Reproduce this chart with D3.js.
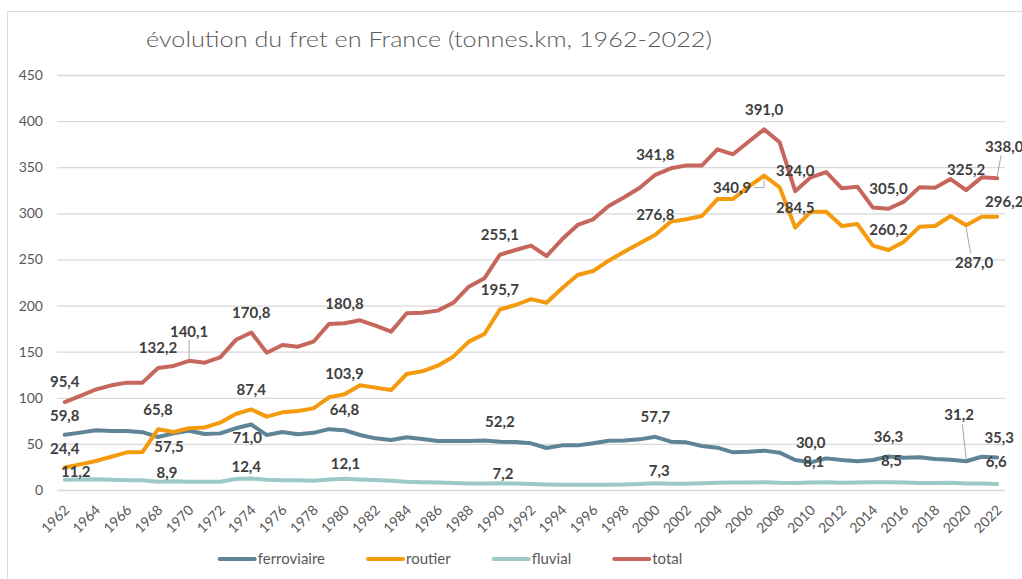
<!DOCTYPE html>
<html>
<head>
<meta charset="utf-8">
<script src="https://cdn.jsdelivr.net/npm/d3@7"></script>
<style>
  body { margin: 0; background: #fff; }
  svg { display: block; font-family: 'Century Gothic', Lato, sans-serif; }
</style>
</head>
<body>
<div id="chart"></div>
<script>
// --- données (milliards de tonnes.km) ---
const years = d3.range(1962, 2023);

const ferroviaire = [59.8, 62.2, 64.7, 64.0, 64.0, 62.7, 57.5, 61.4, 64.3, 60.7,
  61.4, 66.9, 71.0, 59.6, 62.9, 60.5, 62.0, 66.0, 64.8, 59.6,
  56.0, 54.2, 57.1, 55.3, 53.1, 53.1, 53.1, 53.8, 52.2, 52.0,
  50.6, 45.5, 48.4, 48.4, 50.6, 53.5, 53.8, 54.9, 57.7, 52.4,
  51.7, 47.7, 45.9, 40.8, 41.5, 42.7, 40.5, 32.5, 30.0, 34.3,
  32.5, 31.3, 32.5, 36.3, 35.0, 35.4, 33.5, 32.9, 31.2, 36.1, 35.3];

const routier = [24.4, 27.8, 31.4, 36.1, 40.8, 41.2, 65.8, 62.9, 66.9, 67.9,
  73.0, 82.4, 87.4, 79.5, 84.2, 85.7, 88.5, 100.5, 103.9, 113.5,
  111.0, 108.4, 125.8, 128.7, 134.8, 144.6, 160.9, 169.2, 195.7, 200.6,
  207.0, 203.1, 218.7, 233.1, 237.5, 248.7, 258.4, 267.5, 276.8, 291.0,
  293.5, 297.1, 315.5, 315.5, 328.9, 340.9, 328.2, 284.5, 301.8, 301.8,
  286.3, 288.4, 265.0, 260.2, 269.3, 285.5, 286.3, 297.1, 287.0, 296.4, 296.2];

const fluvial = [11.2, 11.5, 11.7, 11.0, 10.5, 10.5, 8.9, 9.5, 9.0, 9.0,
  9.0, 12.0, 12.4, 11.0, 10.5, 10.5, 10.0, 11.5, 12.1, 11.5,
  10.8, 10.0, 9.0, 8.5, 8.0, 7.5, 7.0, 7.0, 7.2, 7.0,
  6.5, 6.0, 5.6, 5.7, 5.8, 5.8, 6.0, 6.5, 7.3, 6.7,
  6.9, 7.2, 7.8, 8.0, 8.2, 8.5, 7.8, 7.5, 8.1, 8.5,
  7.8, 8.0, 8.3, 8.5, 8.0, 7.5, 7.5, 7.8, 7.0, 7.0, 6.6];

const total = [95.4, 102.0, 109.0, 113.5, 116.4, 116.4, 132.2, 134.5, 140.1, 138.0,
  143.9, 162.6, 170.8, 148.9, 157.2, 155.4, 160.8, 180.0, 180.8, 184.0,
  178.2, 171.7, 191.6, 192.3, 194.5, 203.0, 220.5, 229.5, 255.1, 260.2,
  265.0, 253.7, 271.8, 287.4, 293.5, 308.0, 317.4, 327.8, 341.8, 348.8,
  352.0, 352.0, 369.4, 364.0, 377.7, 391.0, 377.0, 324.0, 339.0, 344.8,
  327.1, 328.9, 306.2, 305.0, 312.7, 328.2, 327.8, 337.2, 325.2, 339.0, 338.0];

const seriesNames = ["ferroviaire", "routier", "fluvial", "total"];
const yTicks = [0, 50, 100, 150, 200, 250, 300, 350, 400, 450];

// années avec étiquette de valeur
const labelYears = {
  ferroviaire: [1962, 1968, 1974, 1980, 1990, 2000, 2010, 2015, 2020, 2022],
  routier: [1962, 1968, 1974, 1980, 1990, 2000, 2007, 2009, 2015, 2020, 2022],
  fluvial: [1962, 1968, 1974, 1980, 1990, 2000, 2010, 2015, 2022],
  total: [1962, 1968, 1970, 1974, 1980, 1990, 2000, 2007, 2009, 2015, 2020, 2022]
};

// --- mise en page ---
const width = 1022, height = 579;
const colors = { ferroviaire: "#5f8497", routier: "#f59a0c", fluvial: "#9ccbc7", total: "#c6675e" };
const values = { ferroviaire, routier, fluvial, total };

// décalages des étiquettes (centre du texte par rapport au point)
const labelPos = {
  "total-1970": { dx: 0, dy: -29, leader: "v" },
  "total-2022": { dx: 7, dy: -32, leader: "line" },
  "routier-1962": { dx: 0, dy: -19 },
  "routier-2007": { dx: -32, dy: 12, leader: "elbow" },
  "routier-2020": { dx: 8, dy: 37, leader: "line" },
  "routier-2022": { dx: 7, dy: -15 },
  "ferroviaire-1962": { dx: 0, dy: -19 },
  "ferroviaire-1968": { dx: 11, dy: 10 },
  "ferroviaire-1974": { dx: -4, dy: 13 },
  "ferroviaire-2020": { dx: -7, dy: -46, leader: "line" },
  "ferroviaire-2022": { dx: 2, dy: -20 },
  "fluvial-1962": { dx: 11, dy: -8 },
  "fluvial-1968": { dx: 9, dy: -9 },
  "fluvial-1974": { dx: -5, dy: -12 },
  "fluvial-1980": { dx: 1, dy: -15 },
  "fluvial-1990": { dx: 3, dy: -10 },
  "fluvial-2000": { dx: 4, dy: -13 },
  "fluvial-2010": { dx: 3, dy: -21 },
  "fluvial-2015": { dx: 3, dy: -21 },
  "fluvial-2022": { dx: -1, dy: -22 }
};

const svg = d3.select("#chart").append("svg")
  .attr("width", width).attr("height", height);

// cadre du graphique
svg.append("rect")
  .attr("x", 7.5).attr("y", 11.5)
  .attr("width", 1040).attr("height", 600)
  .attr("fill", "#fff").attr("stroke", "#d9d9d9");

const x = d3.scalePoint().domain(years).range([57, 1005]).padding(0.5);
const y = d3.scaleLinear().domain([0, 450]).range([490, 75]);

// titre
svg.append("text")
  .attr("x", 146).attr("y", 47)
  .attr("fill", "#595959")
  .attr("font-size", "21px")
  .attr("font-weight", 300)
  .attr("textLength", 566)
  .attr("lengthAdjust", "spacingAndGlyphs")
  .text("évolution du fret en France (tonnes.km, 1962-2022)");

// grille horizontale
svg.append("g").selectAll("line")
  .data(yTicks)
  .join("line")
  .attr("x1", 57).attr("x2", 1005)
  .attr("y1", d => y(d) + 0.5).attr("y2", d => y(d) + 0.5)
  .attr("stroke", "#d9d9d9").attr("stroke-width", 1.3);

// axe Y
const yAxis = svg.append("g")
  .attr("transform", "translate(43,0)")
  .call(d3.axisLeft(y).tickValues(yTicks).tickSize(0).tickPadding(0));
yAxis.select(".domain").remove();
yAxis.selectAll("text")
  .attr("fill", "#595959").attr("font-size", "14px")
  .attr("font-family", "'Century Gothic', Lato, sans-serif");

// axe X (une année sur deux)
const xAxis = svg.append("g")
  .attr("transform", "translate(0,490)")
  .call(d3.axisBottom(x).tickValues(years.filter(d => (d - 1962) % 2 === 0)).tickSize(0));
xAxis.select(".domain").remove();
xAxis.selectAll("text")
  .attr("fill", "#595959").attr("font-size", "14px")
  .attr("font-family", "'Century Gothic', Lato, sans-serif")
  .attr("text-anchor", "end")
  .attr("dy", null)
  .attr("y", 0)
  .attr("transform", "translate(5,21) rotate(-45)");

// courbes
const line = d3.line().x((d, i) => x(years[i])).y(d => y(d));
svg.append("g").selectAll("path")
  .data(seriesNames)
  .join("path")
  .attr("d", s => line(values[s]))
  .attr("fill", "none")
  .attr("stroke", s => colors[s])
  .attr("stroke-width", 4)
  .attr("stroke-linejoin", "round")
  .attr("stroke-linecap", "round");

// étiquettes de valeurs
const fmt = v => d3.format(".1f")(v).replace(".", ",");
const labels = [];
seriesNames.forEach(s => {
  labelYears[s].forEach(yr => {
    const i = yr - 1962;
    const p = labelPos[s + "-" + yr] || { dx: 0, dy: -20 };
    labels.push({ s, yr, v: values[s][i], px: x(yr), py: y(values[s][i]), ...p });
  });
});

const gLab = svg.append("g");
labels.forEach(d => {
  const lx = d.px + d.dx, ly = d.py + d.dy;
  if (d.leader === "v") {
    gLab.append("line").attr("x1", d.px).attr("x2", d.px)
      .attr("y1", ly + 8).attr("y2", d.py - 2)
      .attr("stroke", "#a6a6a6").attr("stroke-width", 1);
  } else if (d.leader === "line") {
    const sy = d.dy < 0 ? ly + 9 : ly - 9;
    gLab.append("line").attr("x1", lx - d.dx * 0.45).attr("y1", sy)
      .attr("x2", d.px).attr("y2", d.py + (d.dy < 0 ? -2 : 2))
      .attr("stroke", "#a6a6a6").attr("stroke-width", 1);
  } else if (d.leader === "elbow") {
    gLab.append("path")
      .attr("d", `M${lx + 22},${ly}H${d.px}V${d.py + 4}`)
      .attr("fill", "none").attr("stroke", "#a6a6a6").attr("stroke-width", 1);
  }
  gLab.append("text")
    .attr("x", lx).attr("y", ly).attr("dy", "0.35em")
    .attr("text-anchor", "middle")
    .attr("fill", "#404040")
    .attr("font-size", "15px").attr("font-weight", "bold")
    .text(fmt(d.v));
});

// légende
const legend = svg.append("g").attr("transform", "translate(0,559)");
let lxPos = 0;
const items = [];
seriesNames.forEach(s => {
  const g = legend.append("g");
  g.append("line").attr("x1", 0).attr("x2", 35).attr("y1", 0).attr("y2", 0)
    .attr("stroke", colors[s]).attr("stroke-width", 4).attr("stroke-linecap", "round");
  const t = g.append("text").attr("x", 38).attr("dy", "0.35em")
    .attr("fill", "#595959").attr("font-size", "15px").text(s);
  const w = 38 + t.node().getComputedTextLength();
  items.push({ g, left: lxPos });
  lxPos += w + 43;
});
const legendWidth = lxPos - 43;
const legendStart = 451 - legendWidth / 2;
items.forEach(it => it.g.attr("transform", `translate(${legendStart + it.left},0)`));
</script>
</body>
</html>
